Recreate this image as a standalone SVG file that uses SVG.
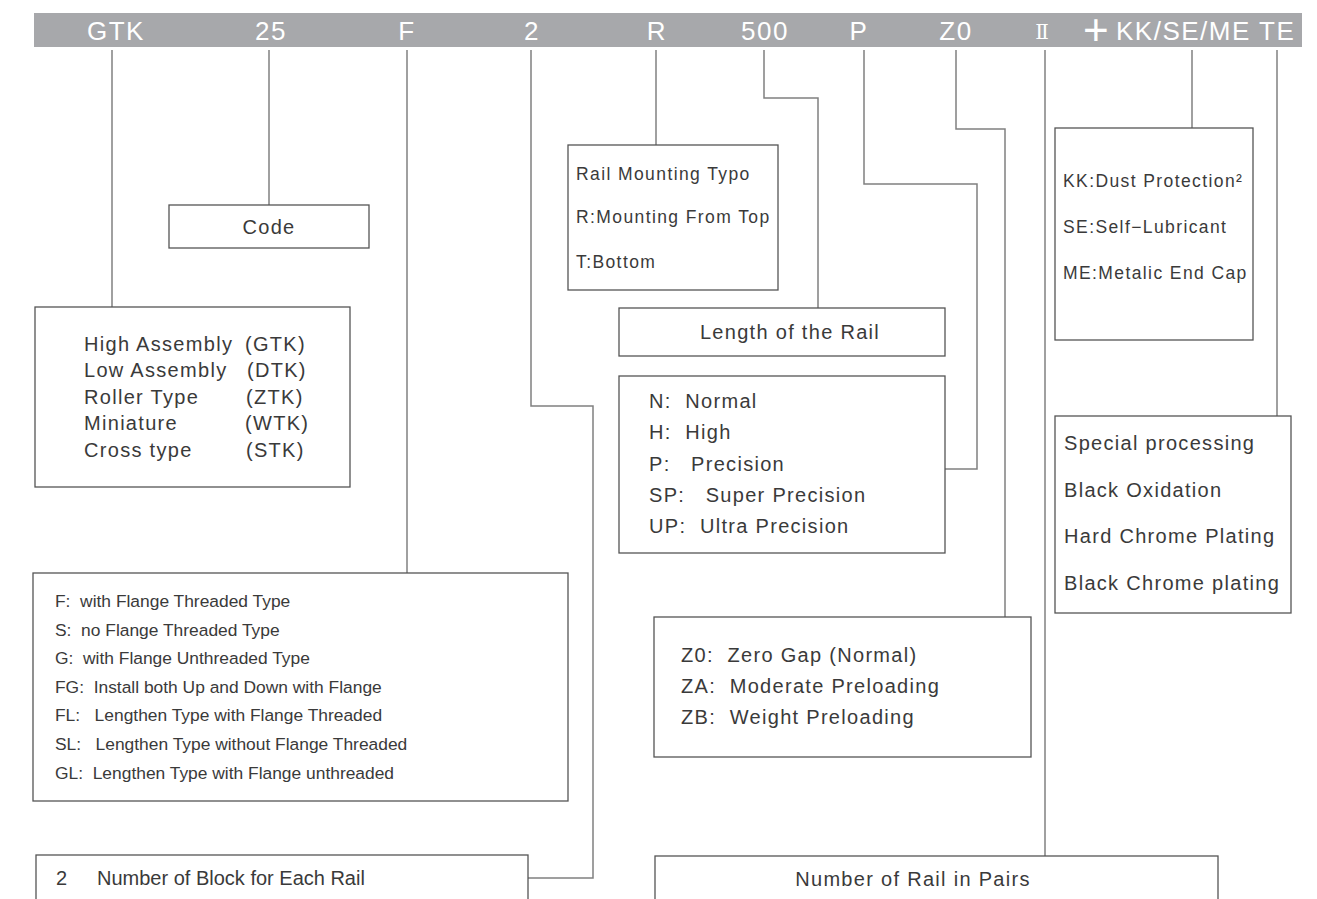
<svg xmlns="http://www.w3.org/2000/svg" width="1317" height="899" viewBox="0 0 1317 899">
<style>
.bar{fill:#a7a8ab}
.bt{fill:#ffffff;font-family:"Liberation Sans",Arial,sans-serif;font-size:26px;letter-spacing:1.5px}
.box{fill:#ffffff;stroke:#555555;stroke-width:1.3}
.ln{fill:none;stroke:#808080;stroke-width:1.5}
.t{fill:#3a3a3a;font-family:"Liberation Sans",Arial,sans-serif;font-size:20px;letter-spacing:1.3px}
.s{fill:#3a3a3a;font-family:"Liberation Sans",Arial,sans-serif;font-size:17.4px}
.n{fill:#3a3a3a;font-family:"Liberation Sans",Arial,sans-serif;font-size:17.5px;letter-spacing:1.4px}
</style>
<rect width="1317" height="899" fill="#ffffff"/>
<g id="header">
<rect class="bar" x="34" y="13" width="1268" height="34"/>
<text class="bt" x="116" y="40" text-anchor="middle">GTK</text>
<text class="bt" x="271" y="40" text-anchor="middle">25</text>
<text class="bt" x="407" y="40" text-anchor="middle">F</text>
<text class="bt" x="532" y="40" text-anchor="middle">2</text>
<text class="bt" x="657" y="40" text-anchor="middle">R</text>
<text class="bt" x="765" y="40" text-anchor="middle">500</text>
<text class="bt" x="859" y="40" text-anchor="middle">P</text>
<text class="bt" x="956" y="40" text-anchor="middle">Z0</text>
<text class="bt" x="1042" y="39" text-anchor="middle" style="font-family:'DejaVu Serif','Liberation Serif',serif;font-size:20px;letter-spacing:0">Ⅱ</text>
<text class="bt" x="1083" y="45" style="font-size:44px;letter-spacing:0">+</text>
<text class="bt" x="1116" y="40">KK/SE/ME TE</text>
</g>
<g id="connectors">
<path class="ln" d="M112 50V307"/>
<path class="ln" d="M269 50V205"/>
<path class="ln" d="M407 50V573"/>
<path class="ln" d="M531 50V406H593V878H528"/>
<path class="ln" d="M656 50V146"/>
<path class="ln" d="M764 50V98H818V308"/>
<path class="ln" d="M864 50V184H977V469H945"/>
<path class="ln" d="M956 50V129H1005V617"/>
<path class="ln" d="M1045 50V856"/>
<path class="ln" d="M1192 50V128"/>
<path class="ln" d="M1277 50V416"/>
</g>
<g id="code">
<rect class="box" x="169" y="205" width="200" height="43"/>
<text class="t" x="269" y="234" text-anchor="middle">Code</text>
</g>
<g id="series">
<rect class="box" x="35" y="307" width="315" height="180"/>
<text class="t" x="84" y="351">High Assembly</text><text class="t" x="245" y="351">(GTK)</text>
<text class="t" x="84" y="377">Low Assembly</text><text class="t" x="247" y="377">(DTK)</text>
<text class="t" x="84" y="404">Roller Type</text><text class="t" x="246" y="404">(ZTK)</text>
<text class="t" x="84" y="430">Miniature</text><text class="t" x="245" y="430">(WTK)</text>
<text class="t" x="84" y="457">Cross type</text><text class="t" x="246" y="457">(STK)</text>
</g>
<g id="flange">
<rect class="box" x="33" y="573" width="535" height="228"/>
<text class="s" x="55" y="607" xml:space="preserve">F:  with Flange Threaded Type</text>
<text class="s" x="55" y="636" xml:space="preserve">S:  no Flange Threaded Type</text>
<text class="s" x="55" y="664" xml:space="preserve">G:  with Flange Unthreaded Type</text>
<text class="s" x="55" y="693" xml:space="preserve">FG:  Install both Up and Down with Flange</text>
<text class="s" x="55" y="721" xml:space="preserve">FL:   Lengthen Type with Flange Threaded</text>
<text class="s" x="55" y="750" xml:space="preserve">SL:   Lengthen Type without Flange Threaded</text>
<text class="s" x="55" y="779" xml:space="preserve">GL:  Lengthen Type with Flange unthreaded</text>
</g>
<g id="mounting">
<rect class="box" x="568" y="145" width="210" height="145"/>
<text class="n" x="576" y="180">Rail Mounting Typo</text>
<text class="n" x="576" y="223">R:Mounting From Top</text>
<text class="n" x="576" y="268">T:Bottom</text>
</g>
<g id="length">
<rect class="box" x="619" y="308" width="326" height="48"/>
<text class="t" x="790" y="339" text-anchor="middle">Length of the Rail</text>
</g>
<g id="precision">
<rect class="box" x="619" y="376" width="326" height="177"/>
<text class="t" x="649" y="408" xml:space="preserve">N:  Normal</text>
<text class="t" x="649" y="439" xml:space="preserve">H:  High</text>
<text class="t" x="649" y="471" xml:space="preserve">P:   Precision</text>
<text class="t" x="649" y="502" xml:space="preserve">SP:   Super Precision</text>
<text class="t" x="649" y="533" xml:space="preserve">UP:  Ultra Precision</text>
</g>
<g id="preload">
<rect class="box" x="654" y="617" width="377" height="140"/>
<text class="t" x="681" y="662" xml:space="preserve">Z0:  Zero Gap (Normal)</text>
<text class="t" x="681" y="693" xml:space="preserve">ZA:  Moderate Preloading</text>
<text class="t" x="681" y="724" xml:space="preserve">ZB:  Weight Preloading</text>
</g>
<g id="options">
<rect class="box" x="1055" y="128" width="198" height="212"/>
<text class="n" x="1063" y="187">KK:Dust Protection²</text>
<text class="n" x="1063" y="233">SE:Self−Lubricant</text>
<text class="n" x="1063" y="279">ME:Metalic End Cap</text>
</g>
<g id="special">
<rect class="box" x="1055" y="416" width="236" height="197"/>
<text class="t" x="1064" y="450">Special processing</text>
<text class="t" x="1064" y="497">Black Oxidation</text>
<text class="t" x="1064" y="543">Hard Chrome Plating</text>
<text class="t" x="1064" y="590">Black Chrome plating</text>
</g>
<g id="blocks">
<rect class="box" x="36" y="855" width="492" height="60"/>
<text class="s" x="56" y="885" style="font-size:20px">2</text>
<text class="s" x="97" y="885" style="font-size:20px">Number of Block for Each Rail</text>
</g>
<g id="pairs">
<rect class="box" x="655" y="856" width="563" height="60"/>
<text class="t" x="913" y="886" text-anchor="middle">Number of Rail in Pairs</text>
</g>
</svg>
